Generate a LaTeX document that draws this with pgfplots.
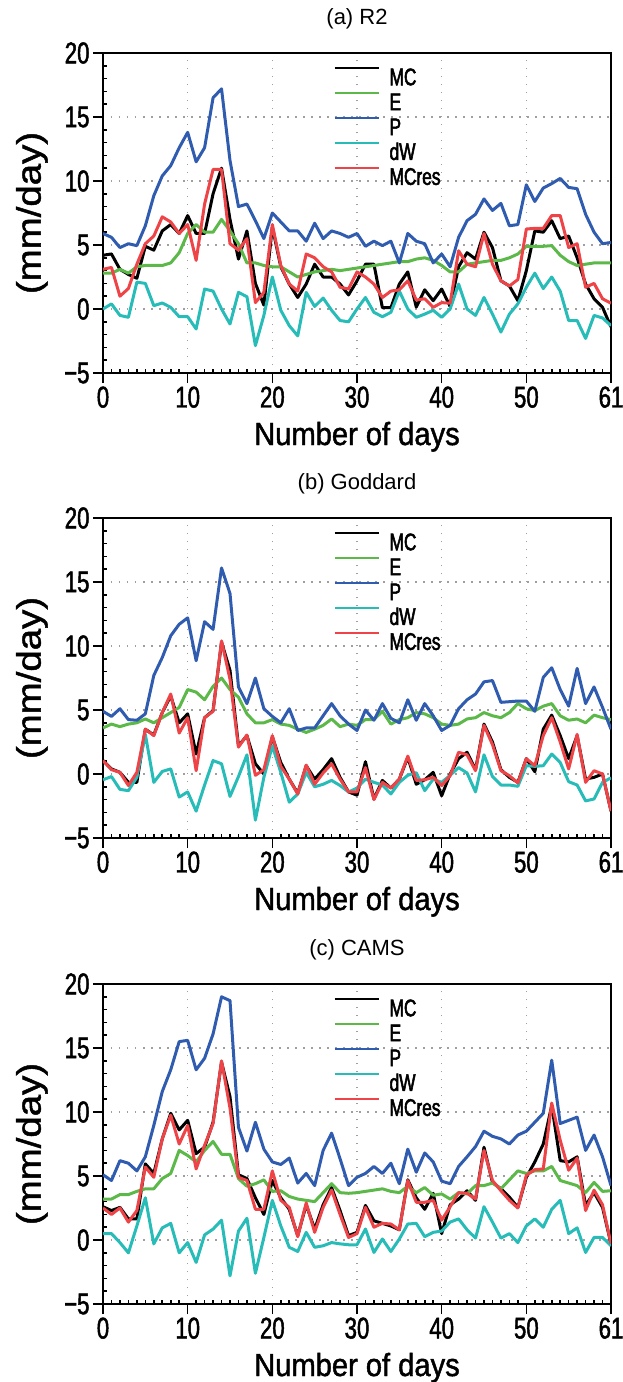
\documentclass[border=0pt]{standalone}
\usepackage{pgfplots}
\pgfplotsset{compat=1.18}
\usepackage{pgfplotstable}
\usepackage{fontspec}
\setmainfont{Liberation Sans}
\newfontfamily\nclfont[FakeStretch=0.74,FakeBold=1.6]{Liberation Sans}
\newfontfamily\nclxfont[FakeStretch=0.91,FakeBold=1.4]{Liberation Sans}
\newfontfamily\nclwide[FakeStretch=1.13,FakeBold=1.4]{Liberation Sans}
\newfontfamily\ncllegfont[FakeStretch=0.72,FakeBold=2.2]{Liberation Sans}
\definecolor{cE}{RGB}{92,184,72}
\definecolor{cP}{RGB}{48,92,176}
\definecolor{cW}{RGB}{40,188,184}
\definecolor{cR}{RGB}{238,68,72}

\pgfplotstableread{
MC E P dW MCres
4.2 2.8 5.9 0 3.1
4.3 2.8 5.6 0.4 3.25
3.1 3.1 4.8 -0.5 1.0
2.7 2.8 5.1 -0.65 1.6
2.4 3.3 4.95 2.1 3.5
4.9 3.4 6.5 2.0 5.1
4.6 3.4 8.85 0.26 5.7
6.1 3.4 10.4 0.47 7.2
6.6 3.6 11.2 0.13 6.8
5.9 4.4 12.6 -0.6 5.9
7.3 5.9 13.8 -0.6 6.6
5.9 6.6 11.5 -1.56 3.8
5.9 6.0 12.6 1.56 8.2
9.0 6.0 16.5 1.4 10.9
11.0 7.0 17.2 0 10.9
7.0 6.1 11.6 -1.17 5.1
3.9 5.1 8.0 1.3 4.6
6.1 3.6 8.2 0.96 5.5
2.0 3.6 6.9 -2.86 0.5
0.3 3.4 5.5 -0.5 1.3
6.4 3.3 7.5 2.5 6.6
3.3 3.3 6.8 -0.1 3.4
1.95 2.9 6.1 -1.3 1.95
0.9 2.5 6.1 -2.1 1.4
1.95 2.7 5.3 1.3 4.3
3.5 2.9 6.7 0.2 4.0
2.5 3.0 5.5 0.86 3.3
2.5 3.1 6.1 -0.1 2.9
1.95 3.0 5.9 -0.9 1.7
1.1 3.1 5.6 -1.0 1.56
2.2 3.2 5.9 0 2.9
3.5 3.3 4.9 0.9 2.5
3.5 3.4 5.3 -0.26 1.95
0.1 3.5 4.95 -0.6 0.9
0.1 3.6 5.3 -0.26 1.4
1.95 3.7 3.6 1.4 1.5
2.9 3.7 5.9 0 2.2
0.15 3.9 5.3 -0.65 0.7
1.5 4.0 5.1 -0.4 0.8
0.65 3.8 3.6 -0.1 0.13
1.56 3.4 4.3 -0.65 0.5
0.2 2.9 3.3 0 0.45
3.3 2.9 5.6 1.95 4.55
4.4 3.5 6.9 0 3.5
3.9 3.6 7.4 -0.5 3.3
6.0 3.7 8.6 0.9 5.9
4.8 3.8 7.7 -0.4 3.5
2.2 3.8 8.25 -1.8 2.2
1.8 4.0 6.5 -0.4 1.8
0.65 4.3 6.6 0.4 2.3
3.0 4.9 9.7 1.7 6.25
6.1 4.9 8.4 2.8 6.3
6.0 4.9 9.45 1.6 6.3
6.9 4.95 9.8 2.5 7.3
5.5 4.2 10.2 1.4 7.3
5.7 3.7 9.5 -0.9 4.8
4.0 3.4 9.4 -0.9 5.1
1.95 3.5 7.4 -2.3 1.7
0.8 3.6 6.0 -0.5 2.0
0.13 3.6 5.1 -0.7 0.8
-1.4 3.6 5.2 -1.3 0.45
}\tabA

\pgfplotstableread{
MC E P dW MCres
1.05 3.6 4.9 -0.45 1.05
0.4 3.9 4.5 -0.2 0.34
0.13 3.7 5.1 -1.2 0.13
-0.65 3.9 4.25 -1.3 -0.9
-0.65 4.0 4.2 -0.26 0.13
3.5 4.3 4.7 3.1 3.5
3.05 4.0 7.7 -0.65 3.0
4.8 4.4 9.1 0.2 4.8
6.1 4.8 10.8 0.4 6.25
4.0 5.2 11.7 -1.8 3.2
4.7 6.6 12.2 -1.4 4.4
1.56 6.4 8.85 -2.9 0.26
4.4 5.8 11.9 -0.86 4.4
4.95 6.85 11.3 1.05 4.9
10.3 7.5 16.1 0.8 10.4
8.1 6.6 14.1 -1.75 7.4
2.2 6.0 6.8 -0.2 2.1
3.0 4.7 5.5 1.5 3.05
0.8 4.0 7.5 -3.6 -0.1
0 4.0 5.1 -0.26 0.34
2.9 4.25 4.5 2.2 3.0
0.9 3.9 4.0 0.13 0.6
-0.4 3.8 5.1 -2.2 -0.4
-1.5 3.5 3.4 -1.56 -1.56
0.65 3.25 3.6 0.13 0.7
-0.4 3.5 3.6 -1.0 -0.8
0.34 3.8 4.55 -0.8 0.08
1.2 4.3 5.5 -0.5 0.8
-0.26 3.7 4.55 -0.9 -0.4
-1.4 3.9 3.9 -1.4 -1.4
-1.65 3.8 3.4 -1.1 -1.4
0.96 4.25 5.0 -0.4 0.5
-1.95 4.25 4.2 -0.65 -2.0
-0.5 4.9 5.5 -0.86 -0.65
-1.1 3.9 4.35 -1.56 -1.1
-0.4 4.25 4.0 -0.65 -0.4
1.3 4.4 5.8 -0.1 1.4
-0.8 4.8 4.2 0.1 -0.5
-0.45 4.7 5.5 -1.3 -0.45
0.13 4.4 4.55 -0.4 -0.26
-1.7 3.9 3.4 -0.65 -0.9
0 3.8 3.8 -0.1 -0.13
1.2 3.9 5.1 0.5 1.7
1.7 4.3 5.8 0.08 1.5
0.34 4.4 6.25 -1.4 0.26
3.9 4.8 7.2 1.5 3.8
2.5 4.55 7.3 -0.2 2.3
0.34 4.4 5.6 -0.86 0.26
-0.26 4.8 5.65 -0.86 -0.13
-0.65 5.5 5.7 -0.96 -0.7
1.2 5.1 5.7 0.65 1.2
0.18 4.95 4.9 0.6 0.65
3.5 5.3 7.55 0.65 3.0
4.6 5.5 8.3 1.56 4.4
3.0 4.55 6.6 0.9 2.5
1.2 4.2 5.3 -0.6 0.4
3.0 4.3 8.25 -0.86 3.1
-0.4 4.0 5.5 -2.1 -0.65
-0.26 4.6 6.8 -1.95 0.26
0 4.4 5.2 -0.65 0
-2.9 4.25 3.5 -0.3 -2.9
}\tabB

\pgfplotstableread{
MC E P dW MCres
2.6 3.2 5.1 0.5 2.5
2.3 3.2 4.65 0.5 2.0
2.55 3.55 6.2 -0.2 2.5
1.65 3.55 6.0 -1.0 1.4
1.65 3.8 5.4 1.1 2.3
5.95 4.0 6.5 3.3 5.7
5.2 4.0 8.95 -0.3 4.9
7.9 4.8 11.6 0.95 7.9
9.9 5.2 13.3 1.3 9.75
8.6 7.0 15.5 -1.0 7.5
9.35 6.6 15.6 -0.2 8.95
6.75 6.1 13.3 -1.75 5.55
7.25 7.0 14.2 0.4 7.4
9.2 7.7 16.1 0.85 9.1
13.9 6.7 19.0 1.55 14.0
11.2 6.7 18.7 -2.8 10.3
5.1 4.8 8.8 0.7 4.9
4.8 4.2 6.95 1.7 4.65
3.3 4.4 9.2 -2.6 2.4
2.0 4.7 7.1 0.2 2.4
4.65 3.8 6.1 3.1 5.4
3.3 3.85 5.9 1.1 3.1
2.4 3.4 6.4 -0.57 2.55
0.34 3.2 4.45 -0.9 0.26
2.75 3.1 5.2 0.6 2.9
0.86 3.0 4.25 -0.57 0.6
2.75 3.7 7.0 -0.45 2.55
4.1 4.4 8.35 -0.2 3.9
2.3 3.7 6.35 -0.3 2.0
0.34 3.65 4.25 -0.37 0.2
0.6 3.7 4.9 -0.37 0.5
2.7 3.8 5.2 0.86 2.55
1.5 3.9 5.75 -0.97 1.0
1.3 4.0 5.2 0.08 1.3
1.1 3.8 6.0 -0.9 1.25
0.8 3.7 4.4 0.08 0.8
4.7 4.2 7.1 1.25 4.65
3.3 3.7 5.3 1.3 2.95
2.4 4.1 6.8 0.26 2.95
3.65 3.5 6.1 0.6 3.1
0.5 3.6 4.6 0.7 1.55
2.75 3.2 4.4 1.4 2.6
3.2 3.7 5.75 1.65 3.7
3.85 3.6 6.5 0.8 3.65
3.1 4.25 7.3 0.15 3.2
7.25 4.25 8.5 2.6 7.0
4.5 4.45 8.1 1.4 4.65
4.0 4.0 7.9 0.15 3.85
3.35 4.7 7.5 0.5 3.1
2.55 5.4 8.2 -0.2 2.5
4.9 5.2 8.5 1.1 5.05
6.1 5.4 9.2 1.65 5.5
7.5 5.4 9.9 1.0 5.55
10.5 5.75 14.05 2.4 10.7
6.2 4.65 9.1 3.1 7.8
6.1 4.45 9.35 0.5 5.45
6.5 4.25 9.6 0.95 6.4
2.7 3.7 7.0 -0.97 2.3
3.7 4.5 8.2 0.2 3.9
2.55 3.8 6.5 0.2 2.75
-0.3 3.85 4.25 -0.45 -0.3
}\tabC

\pgfplotsset{
  panel/.style={
    scale only axis, width=508pt, height=320pt,
    xmin=0, xmax=60, ymin=-5, ymax=20,
    xtick={0,10,20,30,40,50,60}, xticklabels={0,10,20,30,40,50,61},
    ytick={-5,0,5,10,15,20}, yticklabels={−5,0,5,10,15,20},
    minor x tick num=9, minor y tick num=4,
    tick align=outside, xtick pos=left, ytick pos=left,
    major tick length=10pt, minor tick length=4pt,
    minor x tick style={yshift=4pt},
    minor y tick style={xshift=4pt},
    tick style={black, line width=1.6pt},
    axis line style={line width=2.8pt},
    grid=major,
    major grid style={gray!75, line width=1.2pt, dash pattern=on 1.5pt off 6.5pt},
    ticklabel style={font=\nclfont\fontsize{30}{30}\selectfont},
    title style={font=\fontsize{22}{22}\selectfont, at={(0.5,1)}, anchor=base, yshift=23pt},
    xlabel={Number of days},
    xlabel style={font=\nclxfont\fontsize{32}{32}\selectfont, at={(0.5,0)}, anchor=base, yshift=-72pt},
    ylabel={(mm/day)},
    ylabel style={font=\nclwide\fontsize{34}{34}\selectfont, at={(-0.14,0.5)}, anchor=center},
    legend style={draw=none, fill=none, at={(0.448,0.962)}, anchor=north west,
      font=\ncllegfont\fontsize{24}{24}\selectfont, row sep=7pt, column sep=10pt,
      nodes={inner sep=0pt, text height=17pt, text depth=0pt}},
    legend cell align=left,
    legend image code/.code={\draw[##1, line width=1.8pt] (0pt,8.5pt) -- (44pt,8.5pt);},
    every axis plot/.append style={line width=3pt, line join=round, no marks},
  }
}

\begin{document}
\begin{tikzpicture}
\useasboundingbox (0,0) rectangle (623pt,-1382pt);
\begin{axis}[panel, at={(103pt,-373pt)}, anchor=south west, title={(a) R2}]
\addplot[black] table[x expr=\coordindex, y=MC]{\tabA};
\addplot[cE] table[x expr=\coordindex, y=E]{\tabA};
\addplot[cP] table[x expr=\coordindex, y=P]{\tabA};
\addplot[cW] table[x expr=\coordindex, y=dW]{\tabA};
\addplot[cR] table[x expr=\coordindex, y=MCres]{\tabA};
\legend{MC,E,P,dW,MCres}
\end{axis}
\begin{axis}[panel, at={(103pt,-838pt)}, anchor=south west, title={(b) Goddard}]
\addplot[black] table[x expr=\coordindex, y=MC]{\tabB};
\addplot[cE] table[x expr=\coordindex, y=E]{\tabB};
\addplot[cP] table[x expr=\coordindex, y=P]{\tabB};
\addplot[cW] table[x expr=\coordindex, y=dW]{\tabB};
\addplot[cR] table[x expr=\coordindex, y=MCres]{\tabB};
\legend{MC,E,P,dW,MCres}
\end{axis}
\begin{axis}[panel, at={(103pt,-1304pt)}, anchor=south west, title={(c) CAMS}]
\addplot[black] table[x expr=\coordindex, y=MC]{\tabC};
\addplot[cE] table[x expr=\coordindex, y=E]{\tabC};
\addplot[cP] table[x expr=\coordindex, y=P]{\tabC};
\addplot[cW] table[x expr=\coordindex, y=dW]{\tabC};
\addplot[cR] table[x expr=\coordindex, y=MCres]{\tabC};
\legend{MC,E,P,dW,MCres}
\end{axis}
\end{tikzpicture}
\end{document}
